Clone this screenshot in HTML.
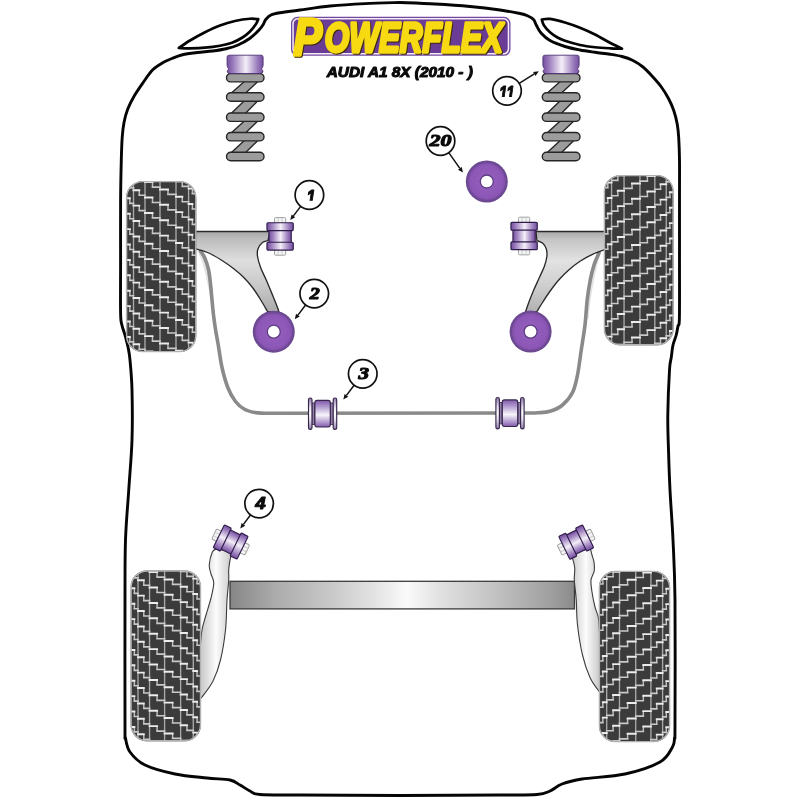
<!DOCTYPE html>
<html lang="en">
<head>
<meta charset="utf-8">
<title>Powerflex - AUDI A1 8X (2010 - )</title>
<style>
html,body{margin:0;padding:0;background:#fff;}
body{width:800px;height:800px;overflow:hidden;}
svg{display:block;filter:blur(0.55px);}
.ns{font-family:"Liberation Sans","DejaVu Sans",sans-serif;font-weight:bold;font-style:italic;font-size:15.8px;fill:#0a0a0a;stroke:#0a0a0a;stroke-width:0.9px;stroke-linejoin:round;}
.n1{font-family:"Liberation Sans","DejaVu Sans",sans-serif;font-weight:bold;font-style:italic;font-size:19.5px;fill:#0a0a0a;stroke:#0a0a0a;stroke-width:1.1px;stroke-linejoin:round;}
.nf{font-family:"Liberation Serif","DejaVu Serif",serif;font-weight:bold;font-style:italic;font-size:16.6px;fill:#0a0a0a;stroke:#0a0a0a;stroke-width:1.1px;stroke-linejoin:round;}
.logo{font-family:"Liberation Sans","DejaVu Sans",sans-serif;font-weight:bold;font-style:italic;stroke-linejoin:round;filter:drop-shadow(1.1px 1.1px 0.3px #3d2a0a);}
.lgP{font-size:52px;}
.lgR{font-size:42px;}
.fg{fill:#f7da12;stroke:#f7da12;stroke-width:3.4px;}
.sub{font-family:"Liberation Sans","DejaVu Sans",sans-serif;font-weight:bold;font-style:italic;font-size:14.6px;fill:#0a0a0a;stroke:#0a0a0a;stroke-width:1.05px;stroke-linejoin:round;}
</style>
</head>
<body>
<svg width="800" height="800" viewBox="0 0 800 800" role="img" aria-label="Powerflex AUDI A1 8X (2010 - ) bush diagram">
<defs>
<linearGradient id="gPurH" x1="0" y1="0" x2="1" y2="0">
  <stop offset="0" stop-color="#76509f"/><stop offset="0.14" stop-color="#9473b8"/>
  <stop offset="0.52" stop-color="#f4eff8"/><stop offset="0.86" stop-color="#9676ba"/>
  <stop offset="1" stop-color="#76509f"/>
</linearGradient>
<linearGradient id="gPurV" x1="0" y1="0" x2="0" y2="1">
  <stop offset="0" stop-color="#8259aa"/><stop offset="0.2" stop-color="#a98fc9"/><stop offset="0.55" stop-color="#f8f5fb"/>
  <stop offset="0.85" stop-color="#a98fc9"/><stop offset="1" stop-color="#8259aa"/>
</linearGradient>
<linearGradient id="gPurV2" x1="0" y1="0" x2="0" y2="1">
  <stop offset="0" stop-color="#8f7aa8"/><stop offset="0.3" stop-color="#e6dff0"/><stop offset="0.5" stop-color="#ffffff"/>
  <stop offset="0.7" stop-color="#e6dff0"/><stop offset="1" stop-color="#8f7aa8"/>
</linearGradient>
<linearGradient id="gBeam" x1="0" y1="0" x2="1" y2="0">
  <stop offset="0" stop-color="#868686"/><stop offset="0.13" stop-color="#ababab"/>
  <stop offset="0.28" stop-color="#c6c6c6"/><stop offset="0.42" stop-color="#e3e3e3"/>
  <stop offset="0.515" stop-color="#fafafa"/><stop offset="0.6" stop-color="#e3e3e3"/>
  <stop offset="0.78" stop-color="#c0c0c0"/><stop offset="0.93" stop-color="#a0a0a0"/>
  <stop offset="1" stop-color="#8a8a8a"/>
</linearGradient>
<linearGradient id="gArmL" gradientUnits="userSpaceOnUse" x1="0" y1="231" x2="0" y2="313">
  <stop offset="0" stop-color="#a6a6a6"/><stop offset="0.1" stop-color="#bdbdbd"/><stop offset="0.36" stop-color="#dedede"/>
  <stop offset="0.7" stop-color="#c6c6c6"/><stop offset="1" stop-color="#a9a9a9"/>
</linearGradient>
<linearGradient id="gArmR" gradientUnits="userSpaceOnUse" x1="0" y1="231" x2="0" y2="313">
  <stop offset="0" stop-color="#a6a6a6"/><stop offset="0.1" stop-color="#c4c4c4"/><stop offset="0.36" stop-color="#e2e2e2"/>
  <stop offset="0.7" stop-color="#cccccc"/><stop offset="1" stop-color="#b0b0b0"/>
</linearGradient>
<linearGradient id="gTrailL" gradientUnits="userSpaceOnUse" x1="203" y1="0" x2="229" y2="0">
  <stop offset="0" stop-color="#cfcfcf"/><stop offset="0.5" stop-color="#fcfcfc"/>
  <stop offset="1" stop-color="#d2d2d2"/>
</linearGradient>
<linearGradient id="gTrailR" gradientUnits="userSpaceOnUse" x1="574" y1="0" x2="598" y2="0">
  <stop offset="0" stop-color="#d2d2d2"/><stop offset="0.5" stop-color="#fcfcfc"/>
  <stop offset="1" stop-color="#cfcfcf"/>
</linearGradient>
<radialGradient id="gDisc" cx="0.5" cy="0.5" r="0.5">
  <stop offset="0" stop-color="#9560bd"/><stop offset="0.85" stop-color="#8d57b7"/>
  <stop offset="1" stop-color="#8250ab"/>
</radialGradient>
<marker id="ah" viewBox="0 0 10 10" refX="9" refY="5" markerWidth="7" markerHeight="7" orient="auto" markerUnits="userSpaceOnUse">
  <path d="M0,1 L10,5 L0,9 Z" fill="#111"/>
</marker>
<clipPath id="tc1"><rect x="126.2" y="181.2" width="70" height="170.8" rx="16.2" ry="16.2"/></clipPath><clipPath id="tc2"><rect x="604" y="175.2" width="69.5" height="170" rx="16.2" ry="16.2"/></clipPath><clipPath id="tc3"><rect x="130.7" y="570.6" width="70.2" height="170.6" rx="16.2" ry="16.2"/></clipPath><clipPath id="tc4"><rect x="599" y="571" width="71" height="171" rx="16.2" ry="16.2"/></clipPath><clipPath id="lc1"><rect x="295.4" y="181" width="28" height="19.7"/></clipPath><clipPath id="lc2"><rect x="493" y="76.85" width="28" height="20.1"/></clipPath></defs>
<rect width="800" height="800" fill="#fff"/>
<path d="M400,2.5C394.17,2.68 376.67,3.02 365,3.6C353.33,4.18 340.83,4.93 330,6C319.17,7.07 308.33,8.88 300,10C291.67,11.12 284.83,11.92 280,12.75C275.17,13.58 273.38,13.88 271,15C268.62,16.12 267,18 265.75,19.5C264.5,21 264.62,22.25 263.5,24C262.38,25.75 261.25,27.62 259,30C256.75,32.38 253.5,35.75 250,38.25C246.5,40.75 242,43.25 238,45C234,46.75 230.25,47.75 226,48.75C221.75,49.75 217.25,50.38 212.5,51C207.75,51.62 202.5,51.88 197.5,52.5C192.5,53.12 186.75,53.75 182.5,54.75C178.25,55.75 175.25,57.21 172,58.5C168.75,59.79 166.25,60.58 163,62.5C159.75,64.42 155.75,66.75 152.5,70C149.25,73.25 146.5,77.75 143.5,82C140.5,86.25 137.12,91 134.5,95.5C131.88,100 129.5,104.5 127.75,109C126,113.5 124.92,117.75 124,122.5C123.08,127.25 122.65,131.25 122.2,137.5C121.75,143.75 121.57,149.58 121.3,160C121.03,170.42 120.72,183.33 120.6,200C120.48,216.67 120.6,241.17 120.6,260C120.6,278.83 120.38,302.17 120.6,313C120.82,323.83 121.17,321.33 121.9,325C122.63,328.67 123.97,331.25 125,335C126.03,338.75 127.27,343.33 128.1,347.5C128.93,351.67 129.35,352.92 130,360C130.65,367.08 131.67,376.67 132,390C132.33,403.33 132.54,423.33 132,440C131.46,456.67 129.83,473.33 128.75,490C127.67,506.67 126.12,521.67 125.5,540C124.88,558.33 125.08,569.17 125,600C124.92,630.83 124.92,702 125,725C125.08,748 124.67,733.5 125.5,738C126.33,742.5 126.75,747.5 130,752C133.25,756.5 137.5,761.33 145,765C152.5,768.67 164.67,771.83 175,774C185.33,776.17 197.83,777 207,778C216.17,779 224.5,778.83 230,780C235.5,781.17 236.67,783.17 240,785C243.33,786.83 246.67,789.42 250,791C253.33,792.58 251.67,793.83 260,794.5C268.33,795.17 276.67,794.83 300,795C323.33,795.17 383.33,795.42 400,795.5" fill="none" stroke="#050505" stroke-width="2.9" stroke-linejoin="round"/>
<path d="M400,2.5C405.83,2.75 423.33,3.33 435,4C446.67,4.67 459.17,5.5 470,6.5C480.83,7.5 491.67,8.83 500,10C508.33,11.17 515.42,12.54 520,13.5C524.58,14.46 525.25,14.75 527.5,15.75C529.75,16.75 532,17.88 533.5,19.5C535,21.12 535.25,23.25 536.5,25.5C537.75,27.75 538.75,30.5 541,33C543.25,35.5 546,38.25 550,40.5C554,42.75 560,44.92 565,46.5C570,48.08 575,49.03 580,50C585,50.97 590,51.59 595,52.3C600,53.01 605.5,53.55 610,54.25C614.5,54.95 618.25,55.5 622,56.5C625.75,57.5 629,58.5 632.5,60.25C636,62 639.75,64.38 643,67C646.25,69.62 649,72.75 652,76C655,79.25 658.25,82.75 661,86.5C663.75,90.25 666.38,94.5 668.5,98.5C670.62,102.5 672.3,106.25 673.75,110.5C675.2,114.75 676.38,119.5 677.2,124C678.03,128.5 678.32,131.5 678.7,137.5C679.08,143.5 679.37,149.58 679.5,160C679.63,170.42 679.5,183.33 679.5,200C679.5,216.67 679.52,240.33 679.5,260C679.48,279.67 679.65,307 679.4,318C679.15,329 678.52,323.17 678,326C677.48,328.83 677.08,331.83 676.25,335C675.42,338.17 673.83,341.25 673,345C672.17,348.75 671.83,353.33 671.25,357.5C670.67,361.67 670.08,360.42 669.5,370C668.92,379.58 667.97,401.67 667.8,415C667.63,428.33 668.13,437.5 668.5,450C668.87,462.5 669.25,475 670,490C670.75,505 672.17,521.67 673,540C673.83,558.33 674.67,569.17 675,600C675.33,630.83 675.08,702 675,725C674.92,748 674.92,734.33 674.5,738C674.08,741.67 674.92,743 672.5,747C670.08,751 667.92,757.5 660,762C652.08,766.5 638,771.17 625,774C612,776.83 592.5,777.33 582,779C571.5,780.67 567.33,782 562,784C556.67,786 554.17,789.25 550,791C545.83,792.75 545.33,793.83 537,794.5C528.67,795.17 522.83,794.83 500,795C477.17,795.17 416.67,795.42 400,795.5" fill="none" stroke="#050505" stroke-width="2.9" stroke-linejoin="round"/>
<path d="M178.75,48C180.62,46.75 185.62,43.12 190,40.5C194.38,37.88 200,34.75 205,32.25C210,29.75 215,27.38 220,25.5C225,23.62 230,22.12 235,21C240,19.88 246.12,19.05 250,18.75C253.88,18.45 256.88,19.12 258.25,19.2L258.25,19.2C257.88,20 257.38,21.95 256,24C254.62,26.05 252.25,29.25 250,31.5C247.75,33.75 245.5,35.62 242.5,37.5C239.5,39.38 235.75,41.38 232,42.75C228.25,44.12 224.5,44.92 220,45.75C215.5,46.58 210,47.28 205,47.7C200,48.12 194.38,48.25 190,48.3C185.62,48.35 180.62,48.05 178.75,48Z" fill="none" stroke="#050505" stroke-width="2.7" stroke-linejoin="round"/>
<path d="M622,48.6C620,47.62 614.5,45.1 610,42.75C605.5,40.4 600,37 595,34.5C590,32 585,29.75 580,27.75C575,25.75 570,23.98 565,22.5C560,21.02 553.88,19.4 550,18.9C546.12,18.4 543.12,19.4 541.75,19.5L541.75,19.5C542.12,20.5 542.62,23.38 544,25.5C545.38,27.62 547.75,30.25 550,32.25C552.25,34.25 555,36.08 557.5,37.5C560,38.92 561.25,39.55 565,40.8C568.75,42.05 575,43.92 580,45C585,46.08 590,46.7 595,47.25C600,47.8 605.5,48.07 610,48.3C614.5,48.52 620,48.55 622,48.6Z" fill="none" stroke="#050505" stroke-width="2.7" stroke-linejoin="round"/>
<path d="M197.2,251C197.77,252.17 199.4,254.83 200.6,258C201.8,261.17 203.2,265.5 204.4,270C205.6,274.5 206.8,280 207.8,285C208.8,290 209.57,294.5 210.4,300C211.23,305.5 212.4,315 212.8,318L213.8,318C213.5,315 212.53,305.5 212,300C211.47,294.5 211.17,290 210.6,285C210.03,280 209.57,274.5 208.6,270C207.63,265.5 206.13,261.17 204.8,258C203.47,254.83 201.3,252.17 200.6,251Z" fill="#e2e2e2"/>
<path d="M600.8,252C600.23,254.17 598.53,260.33 597.4,265C596.27,269.67 595.13,274.17 594,280C592.87,285.83 591.5,293.67 590.6,300C589.7,306.33 588.93,315 588.6,318L587,320C587.22,316.67 587.76,306.67 588.3,300C588.84,293.33 589.3,285.83 590.25,280C591.2,274.17 592.54,269.5 594,265C595.46,260.5 598.17,255 599,253Z" fill="#e2e2e2"/>
<path d="M200.6,251C201.3,252.17 203.47,254.83 204.8,258C206.13,261.17 207.63,265.5 208.6,270C209.57,274.5 210.03,280 210.6,285C211.17,290 211.52,295 212,300C212.48,305 212.9,310 213.5,315C214.1,320 214.81,325 215.6,330C216.39,335 217.18,338.75 218.25,345C219.32,351.25 220.38,360.33 222,367.5C223.62,374.67 225.75,382.33 228,388C230.25,393.67 232.75,397.95 235.5,401.5C238.25,405.05 241.25,407.45 244.5,409.3C247.75,411.15 251.75,411.95 255,412.6C258.25,413.25 260.67,413.08 264,413.2C267.33,413.32 273.17,413.28 275,413.3L528,413C529.67,412.97 534.33,413.08 538,412.8C541.67,412.52 545.92,412.6 550,411.3C554.08,410 558.75,408.13 562.5,405C566.25,401.87 570,397.5 572.5,392.5C575,387.5 576.04,382.08 577.5,375C578.96,367.92 580,358.33 581.25,350C582.5,341.67 584.01,333.33 585,325C585.99,316.67 586.33,307.5 587.2,300C588.08,292.5 589.12,285.83 590.25,280C591.38,274.17 592.54,269.5 594,265C595.46,260.5 598.17,255 599,253" fill="none" stroke="#8a8a8a" stroke-width="3.6" stroke-linecap="round" stroke-linejoin="round"/>
<rect x="230" y="581.3" width="344.5" height="27.6" fill="url(#gBeam)" stroke="#3a3a3a" stroke-width="1.3"/>
<path d="M216,549C215.38,549.54 213.38,549.58 212.25,552.25C211.12,554.92 209.46,561.38 209.25,565C209.04,568.62 210.25,571 211,574C211.75,577 213.75,579 213.75,583C213.75,587 212.29,592.67 211,598C209.71,603.33 207.5,609.67 206,615C204.5,620.33 203,624.17 202,630C201,635.83 200.33,646.67 200,650L200,698C200.33,697.83 199.83,699.83 202,697C204.17,694.17 209.92,687.17 213,681C216.08,674.83 218.42,668.5 220.5,660C222.58,651.5 224.42,640 225.5,630C226.58,620 226.46,608.33 227,600C227.54,591.67 228.46,585.08 228.75,580C229.04,574.92 228.38,573.5 228.75,569.5C229.12,565.5 230.12,558.92 231,556C231.88,553.08 233.5,552.67 234,552Z" fill="url(#gTrailL)" stroke="#3c3c3c" stroke-width="1.1" stroke-linejoin="round"/>
<path d="M590.5,549C590.75,550 591.42,552.83 592,555C592.58,557.17 593.62,559.33 594,562C594.38,564.67 594.75,568 594.25,571C593.75,574 591.38,576.5 591,580C590.62,583.5 591.33,587.5 592,592C592.67,596.5 593.88,602.33 595,607C596.12,611.67 597.92,612.83 598.75,620C599.58,627.17 599.79,645 600,650L600,693C599.79,692.67 600.42,693.58 598.75,691C597.08,688.42 592.71,683.5 590,677.5C587.29,671.5 584.58,663.75 582.5,655C580.42,646.25 578.54,634.17 577.5,625C576.46,615.83 576.78,607.5 576.25,600C575.72,592.5 574.55,585.33 574.3,580C574.05,574.67 575.05,571.62 574.75,568C574.45,564.38 573.29,560.92 572.5,558.25C571.71,555.58 570.42,553.04 570,552Z" fill="url(#gTrailR)" stroke="#3c3c3c" stroke-width="1.1" stroke-linejoin="round"/>
<path d="M195,231.5L270,231.5L268,240.6C267.08,240.92 264.17,241.14 262.5,242.5C260.83,243.86 258.83,246.46 258,248.75C257.17,251.04 257.07,253.12 257.5,256.25C257.93,259.38 259.14,263.54 260.6,267.5C262.06,271.46 264.27,275.42 266.25,280C268.23,284.58 270.62,290.42 272.5,295C274.38,299.58 276.42,304.67 277.5,307.5C278.58,310.33 278.75,311.25 279,312L267.5,311.5C266.25,309.38 262.5,302.75 260,298.75C257.5,294.75 255.21,291.04 252.5,287.5C249.79,283.96 246.88,280.62 243.75,277.5C240.62,274.38 237.5,271.67 233.75,268.75C230,265.83 225.42,262.62 221.25,260C217.08,257.38 213.12,254.9 208.75,253C204.38,251.1 197.29,249.33 195,248.6Z" fill="url(#gArmL)" stroke="#2a2a2a" stroke-width="1.35" stroke-linejoin="round"/>
<path d="M605,231.5L536,231.5L536.9,240.6C537.83,241.02 540.94,241.74 542.5,243.1C544.06,244.46 545.52,246.56 546.25,248.75C546.98,250.94 547.21,253.33 546.9,256.25C546.59,259.17 545.65,262.71 544.4,266.25C543.15,269.79 541.17,273.54 539.4,277.5C537.62,281.46 535.52,285.83 533.75,290C531.98,294.17 530.12,298.83 528.75,302.5C527.38,306.17 526.04,310.42 525.5,312L537,311.5C537.92,310 540.33,305.88 542.5,302.5C544.67,299.12 547.29,295 550,291.25C552.71,287.5 555.62,283.54 558.75,280C561.88,276.46 565.21,273.12 568.75,270C572.29,266.88 576.04,263.85 580,261.25C583.96,258.65 588.33,256.34 592.5,254.4C596.67,252.46 602.92,250.4 605,249.6Z" fill="url(#gArmR)" stroke="#2a2a2a" stroke-width="1.35" stroke-linejoin="round"/>
<rect x="126.2" y="181.2" width="70" height="170.8" rx="16.2" ry="16.2" fill="#3b3b3b"/>
<g clip-path="url(#tc1)" fill="none"><path d="M133.5,181.2V352M145,181.2V352M160,181.2V352M176,181.2V352M188.6,181.2V352" stroke="#a9a9a9" stroke-width="1.35"/><path d="M129.85,152.1L129.85,157.1M129.85,167.5L129.85,172.5M129.85,182.9L129.85,187.9M129.85,198.3L129.85,203.3M129.85,213.7L129.85,218.7M129.85,229.1L129.85,234.1M129.85,244.5L129.85,249.5M129.85,259.9L129.85,264.9M129.85,275.3L129.85,280.3M129.85,290.7L129.85,295.7M129.85,306.1L129.85,311.1M129.85,321.5L129.85,326.5M129.85,336.9L129.85,341.9M129.85,352.3L129.85,357.3M139.25,159.4L139.25,164.4M139.25,174.8L139.25,179.8M139.25,190.2L139.25,195.2M139.25,205.6L139.25,210.6M139.25,221L139.25,226M139.25,236.4L139.25,241.4M139.25,251.8L139.25,256.8M139.25,267.2L139.25,272.2M139.25,282.6L139.25,287.6M139.25,298L139.25,303M139.25,313.4L139.25,318.4M139.25,328.8L139.25,333.8M139.25,344.2L139.25,349.2M139.25,359.6L139.25,364.6M152.5,151.3L152.5,156.3M152.5,166.7L152.5,171.7M152.5,182.1L152.5,187.1M152.5,197.5L152.5,202.5M152.5,212.9L152.5,217.9M152.5,228.3L152.5,233.3M152.5,243.7L152.5,248.7M152.5,259.1L152.5,264.1M152.5,274.5L152.5,279.5M152.5,289.9L152.5,294.9M152.5,305.3L152.5,310.3M152.5,320.7L152.5,325.7M152.5,336.1L152.5,341.1M152.5,351.5L152.5,356.5M152.5,366.9L152.5,371.9M168,158.6L168,163.6M168,174L168,179M168,189.4L168,194.4M168,204.8L168,209.8M168,220.2L168,225.2M168,235.6L168,240.6M168,251L168,256M168,266.4L168,271.4M168,281.8L168,286.8M168,297.2L168,302.2M168,312.6L168,317.6M168,328L168,333M168,343.4L168,348.4M168,358.8L168,363.8M182.3,150.5L182.3,155.5M182.3,165.9L182.3,170.9M182.3,181.3L182.3,186.3M182.3,196.7L182.3,201.7M182.3,212.1L182.3,217.1M182.3,227.5L182.3,232.5M182.3,242.9L182.3,247.9M182.3,258.3L182.3,263.3M182.3,273.7L182.3,278.7M182.3,289.1L182.3,294.1M182.3,304.5L182.3,309.5M182.3,319.9L182.3,324.9M182.3,335.3L182.3,340.3M182.3,350.7L182.3,355.7M182.3,366.1L182.3,371.1M192.4,157.8L192.4,162.8M192.4,173.2L192.4,178.2M192.4,188.6L192.4,193.6M192.4,204L192.4,209M192.4,219.4L192.4,224.4M192.4,234.8L192.4,239.8M192.4,250.2L192.4,255.2M192.4,265.6L192.4,270.6M192.4,281L192.4,286M192.4,296.4L192.4,301.4M192.4,311.8L192.4,316.8M192.4,327.2L192.4,332.2M192.4,342.6L192.4,347.6M192.4,358L192.4,363" stroke="#bebebe" stroke-width="1.45"/><path d="M129.85,157.1L133.5,157.1M129.85,172.5L133.5,172.5M129.85,187.9L133.5,187.9M129.85,203.3L133.5,203.3M129.85,218.7L133.5,218.7M129.85,234.1L133.5,234.1M129.85,249.5L133.5,249.5M129.85,264.9L133.5,264.9M129.85,280.3L133.5,280.3M129.85,295.7L133.5,295.7M129.85,311.1L133.5,311.1M129.85,326.5L133.5,326.5M129.85,341.9L133.5,341.9M129.85,357.3L133.5,357.3M139.25,164.4L145,164.4M139.25,179.8L145,179.8M139.25,195.2L145,195.2M139.25,210.6L145,210.6M139.25,226L145,226M139.25,241.4L145,241.4M139.25,256.8L145,256.8M139.25,272.2L145,272.2M139.25,287.6L145,287.6M139.25,303L145,303M139.25,318.4L145,318.4M139.25,333.8L145,333.8M139.25,349.2L145,349.2M139.25,364.6L145,364.6M152.5,156.3L160,156.3M152.5,171.7L160,171.7M152.5,187.1L160,187.1M152.5,202.5L160,202.5M152.5,217.9L160,217.9M152.5,233.3L160,233.3M152.5,248.7L160,248.7M152.5,264.1L160,264.1M152.5,279.5L160,279.5M152.5,294.9L160,294.9M152.5,310.3L160,310.3M152.5,325.7L160,325.7M152.5,341.1L160,341.1M152.5,356.5L160,356.5M152.5,371.9L160,371.9M168,163.6L176,163.6M168,179L176,179M168,194.4L176,194.4M168,209.8L176,209.8M168,225.2L176,225.2M168,240.6L176,240.6M168,256L176,256M168,271.4L176,271.4M168,286.8L176,286.8M168,302.2L176,302.2M168,317.6L176,317.6M168,333L176,333M168,348.4L176,348.4M168,363.8L176,363.8M182.3,155.5L188.6,155.5M182.3,170.9L188.6,170.9M182.3,186.3L188.6,186.3M182.3,201.7L188.6,201.7M182.3,217.1L188.6,217.1M182.3,232.5L188.6,232.5M182.3,247.9L188.6,247.9M182.3,263.3L188.6,263.3M182.3,278.7L188.6,278.7M182.3,294.1L188.6,294.1M182.3,309.5L188.6,309.5M182.3,324.9L188.6,324.9M182.3,340.3L188.6,340.3M182.3,355.7L188.6,355.7M182.3,371.1L188.6,371.1M192.4,162.8L196.2,162.8M192.4,178.2L196.2,178.2M192.4,193.6L196.2,193.6M192.4,209L196.2,209M192.4,224.4L196.2,224.4M192.4,239.8L196.2,239.8M192.4,255.2L196.2,255.2M192.4,270.6L196.2,270.6M192.4,286L196.2,286M192.4,301.4L196.2,301.4M192.4,316.8L196.2,316.8M192.4,332.2L196.2,332.2M192.4,347.6L196.2,347.6M192.4,363L196.2,363" stroke="#c9c9c9" stroke-width="1.65" stroke-linecap="square"/><path d="M126.2,152.1L129.85,152.1M126.2,167.5L129.85,167.5M126.2,182.9L129.85,182.9M126.2,198.3L129.85,198.3M126.2,213.7L129.85,213.7M126.2,229.1L129.85,229.1M126.2,244.5L129.85,244.5M126.2,259.9L129.85,259.9M126.2,275.3L129.85,275.3M126.2,290.7L129.85,290.7M126.2,306.1L129.85,306.1M126.2,321.5L129.85,321.5M126.2,336.9L129.85,336.9M126.2,352.3L129.85,352.3M133.5,159.4L139.25,159.4M133.5,174.8L139.25,174.8M133.5,190.2L139.25,190.2M133.5,205.6L139.25,205.6M133.5,221L139.25,221M133.5,236.4L139.25,236.4M133.5,251.8L139.25,251.8M133.5,267.2L139.25,267.2M133.5,282.6L139.25,282.6M133.5,298L139.25,298M133.5,313.4L139.25,313.4M133.5,328.8L139.25,328.8M133.5,344.2L139.25,344.2M133.5,359.6L139.25,359.6M145,151.3L152.5,151.3M145,166.7L152.5,166.7M145,182.1L152.5,182.1M145,197.5L152.5,197.5M145,212.9L152.5,212.9M145,228.3L152.5,228.3M145,243.7L152.5,243.7M145,259.1L152.5,259.1M145,274.5L152.5,274.5M145,289.9L152.5,289.9M145,305.3L152.5,305.3M145,320.7L152.5,320.7M145,336.1L152.5,336.1M145,351.5L152.5,351.5M145,366.9L152.5,366.9M160,158.6L168,158.6M160,174L168,174M160,189.4L168,189.4M160,204.8L168,204.8M160,220.2L168,220.2M160,235.6L168,235.6M160,251L168,251M160,266.4L168,266.4M160,281.8L168,281.8M160,297.2L168,297.2M160,312.6L168,312.6M160,328L168,328M160,343.4L168,343.4M160,358.8L168,358.8M176,150.5L182.3,150.5M176,165.9L182.3,165.9M176,181.3L182.3,181.3M176,196.7L182.3,196.7M176,212.1L182.3,212.1M176,227.5L182.3,227.5M176,242.9L182.3,242.9M176,258.3L182.3,258.3M176,273.7L182.3,273.7M176,289.1L182.3,289.1M176,304.5L182.3,304.5M176,319.9L182.3,319.9M176,335.3L182.3,335.3M176,350.7L182.3,350.7M176,366.1L182.3,366.1M188.6,157.8L192.4,157.8M188.6,173.2L192.4,173.2M188.6,188.6L192.4,188.6M188.6,204L192.4,204M188.6,219.4L192.4,219.4M188.6,234.8L192.4,234.8M188.6,250.2L192.4,250.2M188.6,265.6L192.4,265.6M188.6,281L192.4,281M188.6,296.4L192.4,296.4M188.6,311.8L192.4,311.8M188.6,327.2L192.4,327.2M188.6,342.6L192.4,342.6M188.6,358L192.4,358" stroke="#ececec" stroke-width="1.95" stroke-linecap="square"/></g>
<rect x="126.6" y="181.6" width="69.2" height="170" rx="16.2" ry="16.2" fill="none" stroke="#b2b2b2" stroke-width="1.4"/>
<rect x="604" y="175.2" width="69.5" height="170" rx="16.2" ry="16.2" fill="#3b3b3b"/>
<g clip-path="url(#tc2)" fill="none"><path d="M666.25,175.2V345.2M654.83,175.2V345.2M639.94,175.2V345.2M624.06,175.2V345.2M611.55,175.2V345.2" stroke="#a9a9a9" stroke-width="1.35"/><path d="M669.88,146.1L669.88,151.1M669.88,161.5L669.88,166.5M669.88,176.9L669.88,181.9M669.88,192.3L669.88,197.3M669.88,207.7L669.88,212.7M669.88,223.1L669.88,228.1M669.88,238.5L669.88,243.5M669.88,253.9L669.88,258.9M669.88,269.3L669.88,274.3M669.88,284.7L669.88,289.7M669.88,300.1L669.88,305.1M669.88,315.5L669.88,320.5M669.88,330.9L669.88,335.9M669.88,346.3L669.88,351.3M660.54,153.4L660.54,158.4M660.54,168.8L660.54,173.8M660.54,184.2L660.54,189.2M660.54,199.6L660.54,204.6M660.54,215L660.54,220M660.54,230.4L660.54,235.4M660.54,245.8L660.54,250.8M660.54,261.2L660.54,266.2M660.54,276.6L660.54,281.6M660.54,292L660.54,297M660.54,307.4L660.54,312.4M660.54,322.8L660.54,327.8M660.54,338.2L660.54,343.2M660.54,353.6L660.54,358.6M647.39,145.3L647.39,150.3M647.39,160.7L647.39,165.7M647.39,176.1L647.39,181.1M647.39,191.5L647.39,196.5M647.39,206.9L647.39,211.9M647.39,222.3L647.39,227.3M647.39,237.7L647.39,242.7M647.39,253.1L647.39,258.1M647.39,268.5L647.39,273.5M647.39,283.9L647.39,288.9M647.39,299.3L647.39,304.3M647.39,314.7L647.39,319.7M647.39,330.1L647.39,335.1M647.39,345.5L647.39,350.5M632,152.6L632,157.6M632,168L632,173M632,183.4L632,188.4M632,198.8L632,203.8M632,214.2L632,219.2M632,229.6L632,234.6M632,245L632,250M632,260.4L632,265.4M632,275.8L632,280.8M632,291.2L632,296.2M632,306.6L632,311.6M632,322L632,327M632,337.4L632,342.4M632,352.8L632,357.8M617.8,144.5L617.8,149.5M617.8,159.9L617.8,164.9M617.8,175.3L617.8,180.3M617.8,190.7L617.8,195.7M617.8,206.1L617.8,211.1M617.8,221.5L617.8,226.5M617.8,236.9L617.8,241.9M617.8,252.3L617.8,257.3M617.8,267.7L617.8,272.7M617.8,283.1L617.8,288.1M617.8,298.5L617.8,303.5M617.8,313.9L617.8,318.9M617.8,329.3L617.8,334.3M617.8,344.7L617.8,349.7M617.8,360.1L617.8,365.1M607.77,151.8L607.77,156.8M607.77,167.2L607.77,172.2M607.77,182.6L607.77,187.6M607.77,198L607.77,203M607.77,213.4L607.77,218.4M607.77,228.8L607.77,233.8M607.77,244.2L607.77,249.2M607.77,259.6L607.77,264.6M607.77,275L607.77,280M607.77,290.4L607.77,295.4M607.77,305.8L607.77,310.8M607.77,321.2L607.77,326.2M607.77,336.6L607.77,341.6M607.77,352L607.77,357" stroke="#bebebe" stroke-width="1.45"/><path d="M669.88,151.1L666.25,151.1M669.88,166.5L666.25,166.5M669.88,181.9L666.25,181.9M669.88,197.3L666.25,197.3M669.88,212.7L666.25,212.7M669.88,228.1L666.25,228.1M669.88,243.5L666.25,243.5M669.88,258.9L666.25,258.9M669.88,274.3L666.25,274.3M669.88,289.7L666.25,289.7M669.88,305.1L666.25,305.1M669.88,320.5L666.25,320.5M669.88,335.9L666.25,335.9M669.88,351.3L666.25,351.3M660.54,158.4L654.83,158.4M660.54,173.8L654.83,173.8M660.54,189.2L654.83,189.2M660.54,204.6L654.83,204.6M660.54,220L654.83,220M660.54,235.4L654.83,235.4M660.54,250.8L654.83,250.8M660.54,266.2L654.83,266.2M660.54,281.6L654.83,281.6M660.54,297L654.83,297M660.54,312.4L654.83,312.4M660.54,327.8L654.83,327.8M660.54,343.2L654.83,343.2M660.54,358.6L654.83,358.6M647.39,150.3L639.94,150.3M647.39,165.7L639.94,165.7M647.39,181.1L639.94,181.1M647.39,196.5L639.94,196.5M647.39,211.9L639.94,211.9M647.39,227.3L639.94,227.3M647.39,242.7L639.94,242.7M647.39,258.1L639.94,258.1M647.39,273.5L639.94,273.5M647.39,288.9L639.94,288.9M647.39,304.3L639.94,304.3M647.39,319.7L639.94,319.7M647.39,335.1L639.94,335.1M647.39,350.5L639.94,350.5M632,157.6L624.06,157.6M632,173L624.06,173M632,188.4L624.06,188.4M632,203.8L624.06,203.8M632,219.2L624.06,219.2M632,234.6L624.06,234.6M632,250L624.06,250M632,265.4L624.06,265.4M632,280.8L624.06,280.8M632,296.2L624.06,296.2M632,311.6L624.06,311.6M632,327L624.06,327M632,342.4L624.06,342.4M632,357.8L624.06,357.8M617.8,149.5L611.55,149.5M617.8,164.9L611.55,164.9M617.8,180.3L611.55,180.3M617.8,195.7L611.55,195.7M617.8,211.1L611.55,211.1M617.8,226.5L611.55,226.5M617.8,241.9L611.55,241.9M617.8,257.3L611.55,257.3M617.8,272.7L611.55,272.7M617.8,288.1L611.55,288.1M617.8,303.5L611.55,303.5M617.8,318.9L611.55,318.9M617.8,334.3L611.55,334.3M617.8,349.7L611.55,349.7M617.8,365.1L611.55,365.1M607.77,156.8L604,156.8M607.77,172.2L604,172.2M607.77,187.6L604,187.6M607.77,203L604,203M607.77,218.4L604,218.4M607.77,233.8L604,233.8M607.77,249.2L604,249.2M607.77,264.6L604,264.6M607.77,280L604,280M607.77,295.4L604,295.4M607.77,310.8L604,310.8M607.77,326.2L604,326.2M607.77,341.6L604,341.6M607.77,357L604,357" stroke="#c9c9c9" stroke-width="1.65" stroke-linecap="square"/><path d="M673.5,146.1L669.88,146.1M673.5,161.5L669.88,161.5M673.5,176.9L669.88,176.9M673.5,192.3L669.88,192.3M673.5,207.7L669.88,207.7M673.5,223.1L669.88,223.1M673.5,238.5L669.88,238.5M673.5,253.9L669.88,253.9M673.5,269.3L669.88,269.3M673.5,284.7L669.88,284.7M673.5,300.1L669.88,300.1M673.5,315.5L669.88,315.5M673.5,330.9L669.88,330.9M673.5,346.3L669.88,346.3M666.25,153.4L660.54,153.4M666.25,168.8L660.54,168.8M666.25,184.2L660.54,184.2M666.25,199.6L660.54,199.6M666.25,215L660.54,215M666.25,230.4L660.54,230.4M666.25,245.8L660.54,245.8M666.25,261.2L660.54,261.2M666.25,276.6L660.54,276.6M666.25,292L660.54,292M666.25,307.4L660.54,307.4M666.25,322.8L660.54,322.8M666.25,338.2L660.54,338.2M666.25,353.6L660.54,353.6M654.83,145.3L647.39,145.3M654.83,160.7L647.39,160.7M654.83,176.1L647.39,176.1M654.83,191.5L647.39,191.5M654.83,206.9L647.39,206.9M654.83,222.3L647.39,222.3M654.83,237.7L647.39,237.7M654.83,253.1L647.39,253.1M654.83,268.5L647.39,268.5M654.83,283.9L647.39,283.9M654.83,299.3L647.39,299.3M654.83,314.7L647.39,314.7M654.83,330.1L647.39,330.1M654.83,345.5L647.39,345.5M639.94,152.6L632,152.6M639.94,168L632,168M639.94,183.4L632,183.4M639.94,198.8L632,198.8M639.94,214.2L632,214.2M639.94,229.6L632,229.6M639.94,245L632,245M639.94,260.4L632,260.4M639.94,275.8L632,275.8M639.94,291.2L632,291.2M639.94,306.6L632,306.6M639.94,322L632,322M639.94,337.4L632,337.4M639.94,352.8L632,352.8M624.06,144.5L617.8,144.5M624.06,159.9L617.8,159.9M624.06,175.3L617.8,175.3M624.06,190.7L617.8,190.7M624.06,206.1L617.8,206.1M624.06,221.5L617.8,221.5M624.06,236.9L617.8,236.9M624.06,252.3L617.8,252.3M624.06,267.7L617.8,267.7M624.06,283.1L617.8,283.1M624.06,298.5L617.8,298.5M624.06,313.9L617.8,313.9M624.06,329.3L617.8,329.3M624.06,344.7L617.8,344.7M624.06,360.1L617.8,360.1M611.55,151.8L607.77,151.8M611.55,167.2L607.77,167.2M611.55,182.6L607.77,182.6M611.55,198L607.77,198M611.55,213.4L607.77,213.4M611.55,228.8L607.77,228.8M611.55,244.2L607.77,244.2M611.55,259.6L607.77,259.6M611.55,275L607.77,275M611.55,290.4L607.77,290.4M611.55,305.8L607.77,305.8M611.55,321.2L607.77,321.2M611.55,336.6L607.77,336.6M611.55,352L607.77,352" stroke="#ececec" stroke-width="1.95" stroke-linecap="square"/></g>
<rect x="604.4" y="175.6" width="68.7" height="169.2" rx="16.2" ry="16.2" fill="none" stroke="#b2b2b2" stroke-width="1.4"/>
<rect x="130.7" y="570.6" width="70.2" height="170.6" rx="16.2" ry="16.2" fill="#3b3b3b"/>
<g clip-path="url(#tc3)" fill="none"><path d="M138.02,570.6V741.2M149.55,570.6V741.2M164.6,570.6V741.2M180.64,570.6V741.2M193.28,570.6V741.2" stroke="#a9a9a9" stroke-width="1.35"/><path d="M134.36,542.1L134.36,547.1M134.36,557.5L134.36,562.5M134.36,572.9L134.36,577.9M134.36,588.3L134.36,593.3M134.36,603.7L134.36,608.7M134.36,619.1L134.36,624.1M134.36,634.5L134.36,639.5M134.36,649.9L134.36,654.9M134.36,665.3L134.36,670.3M134.36,680.7L134.36,685.7M134.36,696.1L134.36,701.1M134.36,711.5L134.36,716.5M134.36,726.9L134.36,731.9M134.36,742.3L134.36,747.3M143.79,549.4L143.79,554.4M143.79,564.8L143.79,569.8M143.79,580.2L143.79,585.2M143.79,595.6L143.79,600.6M143.79,611L143.79,616M143.79,626.4L143.79,631.4M143.79,641.8L143.79,646.8M143.79,657.2L143.79,662.2M143.79,672.6L143.79,677.6M143.79,688L143.79,693M143.79,703.4L143.79,708.4M143.79,718.8L143.79,723.8M143.79,734.2L143.79,739.2M143.79,749.6L143.79,754.6M157.08,541.3L157.08,546.3M157.08,556.7L157.08,561.7M157.08,572.1L157.08,577.1M157.08,587.5L157.08,592.5M157.08,602.9L157.08,607.9M157.08,618.3L157.08,623.3M157.08,633.7L157.08,638.7M157.08,649.1L157.08,654.1M157.08,664.5L157.08,669.5M157.08,679.9L157.08,684.9M157.08,695.3L157.08,700.3M157.08,710.7L157.08,715.7M157.08,726.1L157.08,731.1M157.08,741.5L157.08,746.5M172.62,548.6L172.62,553.6M172.62,564L172.62,569M172.62,579.4L172.62,584.4M172.62,594.8L172.62,599.8M172.62,610.2L172.62,615.2M172.62,625.6L172.62,630.6M172.62,641L172.62,646M172.62,656.4L172.62,661.4M172.62,671.8L172.62,676.8M172.62,687.2L172.62,692.2M172.62,702.6L172.62,707.6M172.62,718L172.62,723M172.62,733.4L172.62,738.4M172.62,748.8L172.62,753.8M186.96,540.5L186.96,545.5M186.96,555.9L186.96,560.9M186.96,571.3L186.96,576.3M186.96,586.7L186.96,591.7M186.96,602.1L186.96,607.1M186.96,617.5L186.96,622.5M186.96,632.9L186.96,637.9M186.96,648.3L186.96,653.3M186.96,663.7L186.96,668.7M186.96,679.1L186.96,684.1M186.96,694.5L186.96,699.5M186.96,709.9L186.96,714.9M186.96,725.3L186.96,730.3M186.96,740.7L186.96,745.7M186.96,756.1L186.96,761.1M197.09,547.8L197.09,552.8M197.09,563.2L197.09,568.2M197.09,578.6L197.09,583.6M197.09,594L197.09,599M197.09,609.4L197.09,614.4M197.09,624.8L197.09,629.8M197.09,640.2L197.09,645.2M197.09,655.6L197.09,660.6M197.09,671L197.09,676M197.09,686.4L197.09,691.4M197.09,701.8L197.09,706.8M197.09,717.2L197.09,722.2M197.09,732.6L197.09,737.6M197.09,748L197.09,753" stroke="#bebebe" stroke-width="1.45"/><path d="M134.36,547.1L138.02,547.1M134.36,562.5L138.02,562.5M134.36,577.9L138.02,577.9M134.36,593.3L138.02,593.3M134.36,608.7L138.02,608.7M134.36,624.1L138.02,624.1M134.36,639.5L138.02,639.5M134.36,654.9L138.02,654.9M134.36,670.3L138.02,670.3M134.36,685.7L138.02,685.7M134.36,701.1L138.02,701.1M134.36,716.5L138.02,716.5M134.36,731.9L138.02,731.9M134.36,747.3L138.02,747.3M143.79,554.4L149.55,554.4M143.79,569.8L149.55,569.8M143.79,585.2L149.55,585.2M143.79,600.6L149.55,600.6M143.79,616L149.55,616M143.79,631.4L149.55,631.4M143.79,646.8L149.55,646.8M143.79,662.2L149.55,662.2M143.79,677.6L149.55,677.6M143.79,693L149.55,693M143.79,708.4L149.55,708.4M143.79,723.8L149.55,723.8M143.79,739.2L149.55,739.2M143.79,754.6L149.55,754.6M157.08,546.3L164.6,546.3M157.08,561.7L164.6,561.7M157.08,577.1L164.6,577.1M157.08,592.5L164.6,592.5M157.08,607.9L164.6,607.9M157.08,623.3L164.6,623.3M157.08,638.7L164.6,638.7M157.08,654.1L164.6,654.1M157.08,669.5L164.6,669.5M157.08,684.9L164.6,684.9M157.08,700.3L164.6,700.3M157.08,715.7L164.6,715.7M157.08,731.1L164.6,731.1M157.08,746.5L164.6,746.5M172.62,553.6L180.64,553.6M172.62,569L180.64,569M172.62,584.4L180.64,584.4M172.62,599.8L180.64,599.8M172.62,615.2L180.64,615.2M172.62,630.6L180.64,630.6M172.62,646L180.64,646M172.62,661.4L180.64,661.4M172.62,676.8L180.64,676.8M172.62,692.2L180.64,692.2M172.62,707.6L180.64,707.6M172.62,723L180.64,723M172.62,738.4L180.64,738.4M172.62,753.8L180.64,753.8M186.96,545.5L193.28,545.5M186.96,560.9L193.28,560.9M186.96,576.3L193.28,576.3M186.96,591.7L193.28,591.7M186.96,607.1L193.28,607.1M186.96,622.5L193.28,622.5M186.96,637.9L193.28,637.9M186.96,653.3L193.28,653.3M186.96,668.7L193.28,668.7M186.96,684.1L193.28,684.1M186.96,699.5L193.28,699.5M186.96,714.9L193.28,714.9M186.96,730.3L193.28,730.3M186.96,745.7L193.28,745.7M186.96,761.1L193.28,761.1M197.09,552.8L200.9,552.8M197.09,568.2L200.9,568.2M197.09,583.6L200.9,583.6M197.09,599L200.9,599M197.09,614.4L200.9,614.4M197.09,629.8L200.9,629.8M197.09,645.2L200.9,645.2M197.09,660.6L200.9,660.6M197.09,676L200.9,676M197.09,691.4L200.9,691.4M197.09,706.8L200.9,706.8M197.09,722.2L200.9,722.2M197.09,737.6L200.9,737.6M197.09,753L200.9,753" stroke="#c9c9c9" stroke-width="1.65" stroke-linecap="square"/><path d="M130.7,542.1L134.36,542.1M130.7,557.5L134.36,557.5M130.7,572.9L134.36,572.9M130.7,588.3L134.36,588.3M130.7,603.7L134.36,603.7M130.7,619.1L134.36,619.1M130.7,634.5L134.36,634.5M130.7,649.9L134.36,649.9M130.7,665.3L134.36,665.3M130.7,680.7L134.36,680.7M130.7,696.1L134.36,696.1M130.7,711.5L134.36,711.5M130.7,726.9L134.36,726.9M130.7,742.3L134.36,742.3M138.02,549.4L143.79,549.4M138.02,564.8L143.79,564.8M138.02,580.2L143.79,580.2M138.02,595.6L143.79,595.6M138.02,611L143.79,611M138.02,626.4L143.79,626.4M138.02,641.8L143.79,641.8M138.02,657.2L143.79,657.2M138.02,672.6L143.79,672.6M138.02,688L143.79,688M138.02,703.4L143.79,703.4M138.02,718.8L143.79,718.8M138.02,734.2L143.79,734.2M138.02,749.6L143.79,749.6M149.55,541.3L157.08,541.3M149.55,556.7L157.08,556.7M149.55,572.1L157.08,572.1M149.55,587.5L157.08,587.5M149.55,602.9L157.08,602.9M149.55,618.3L157.08,618.3M149.55,633.7L157.08,633.7M149.55,649.1L157.08,649.1M149.55,664.5L157.08,664.5M149.55,679.9L157.08,679.9M149.55,695.3L157.08,695.3M149.55,710.7L157.08,710.7M149.55,726.1L157.08,726.1M149.55,741.5L157.08,741.5M164.6,548.6L172.62,548.6M164.6,564L172.62,564M164.6,579.4L172.62,579.4M164.6,594.8L172.62,594.8M164.6,610.2L172.62,610.2M164.6,625.6L172.62,625.6M164.6,641L172.62,641M164.6,656.4L172.62,656.4M164.6,671.8L172.62,671.8M164.6,687.2L172.62,687.2M164.6,702.6L172.62,702.6M164.6,718L172.62,718M164.6,733.4L172.62,733.4M164.6,748.8L172.62,748.8M180.64,540.5L186.96,540.5M180.64,555.9L186.96,555.9M180.64,571.3L186.96,571.3M180.64,586.7L186.96,586.7M180.64,602.1L186.96,602.1M180.64,617.5L186.96,617.5M180.64,632.9L186.96,632.9M180.64,648.3L186.96,648.3M180.64,663.7L186.96,663.7M180.64,679.1L186.96,679.1M180.64,694.5L186.96,694.5M180.64,709.9L186.96,709.9M180.64,725.3L186.96,725.3M180.64,740.7L186.96,740.7M180.64,756.1L186.96,756.1M193.28,547.8L197.09,547.8M193.28,563.2L197.09,563.2M193.28,578.6L197.09,578.6M193.28,594L197.09,594M193.28,609.4L197.09,609.4M193.28,624.8L197.09,624.8M193.28,640.2L197.09,640.2M193.28,655.6L197.09,655.6M193.28,671L197.09,671M193.28,686.4L197.09,686.4M193.28,701.8L197.09,701.8M193.28,717.2L197.09,717.2M193.28,732.6L197.09,732.6M193.28,748L197.09,748" stroke="#ececec" stroke-width="1.95" stroke-linecap="square"/></g>
<rect x="131.1" y="571" width="69.4" height="169.8" rx="16.2" ry="16.2" fill="none" stroke="#b2b2b2" stroke-width="1.4"/>
<rect x="599" y="571" width="71" height="171" rx="16.2" ry="16.2" fill="#3b3b3b"/>
<g clip-path="url(#tc4)" fill="none"><path d="M662.6,571V742M650.93,571V742M635.72,571V742M619.49,571V742M606.71,571V742" stroke="#a9a9a9" stroke-width="1.35"/><path d="M666.3,542.5L666.3,547.5M666.3,557.9L666.3,562.9M666.3,573.3L666.3,578.3M666.3,588.7L666.3,593.7M666.3,604.1L666.3,609.1M666.3,619.5L666.3,624.5M666.3,634.9L666.3,639.9M666.3,650.3L666.3,655.3M666.3,665.7L666.3,670.7M666.3,681.1L666.3,686.1M666.3,696.5L666.3,701.5M666.3,711.9L666.3,716.9M666.3,727.3L666.3,732.3M666.3,742.7L666.3,747.7M656.76,549.8L656.76,554.8M656.76,565.2L656.76,570.2M656.76,580.6L656.76,585.6M656.76,596L656.76,601M656.76,611.4L656.76,616.4M656.76,626.8L656.76,631.8M656.76,642.2L656.76,647.2M656.76,657.6L656.76,662.6M656.76,673L656.76,678M656.76,688.4L656.76,693.4M656.76,703.8L656.76,708.8M656.76,719.2L656.76,724.2M656.76,734.6L656.76,739.6M656.76,750L656.76,755M643.32,541.7L643.32,546.7M643.32,557.1L643.32,562.1M643.32,572.5L643.32,577.5M643.32,587.9L643.32,592.9M643.32,603.3L643.32,608.3M643.32,618.7L643.32,623.7M643.32,634.1L643.32,639.1M643.32,649.5L643.32,654.5M643.32,664.9L643.32,669.9M643.32,680.3L643.32,685.3M643.32,695.7L643.32,700.7M643.32,711.1L643.32,716.1M643.32,726.5L643.32,731.5M643.32,741.9L643.32,746.9M643.32,757.3L643.32,762.3M627.6,549L627.6,554M627.6,564.4L627.6,569.4M627.6,579.8L627.6,584.8M627.6,595.2L627.6,600.2M627.6,610.6L627.6,615.6M627.6,626L627.6,631M627.6,641.4L627.6,646.4M627.6,656.8L627.6,661.8M627.6,672.2L627.6,677.2M627.6,687.6L627.6,692.6M627.6,703L627.6,708M627.6,718.4L627.6,723.4M627.6,733.8L627.6,738.8M627.6,749.2L627.6,754.2M613.1,540.9L613.1,545.9M613.1,556.3L613.1,561.3M613.1,571.7L613.1,576.7M613.1,587.1L613.1,592.1M613.1,602.5L613.1,607.5M613.1,617.9L613.1,622.9M613.1,633.3L613.1,638.3M613.1,648.7L613.1,653.7M613.1,664.1L613.1,669.1M613.1,679.5L613.1,684.5M613.1,694.9L613.1,699.9M613.1,710.3L613.1,715.3M613.1,725.7L613.1,730.7M613.1,741.1L613.1,746.1M613.1,756.5L613.1,761.5M602.85,548.2L602.85,553.2M602.85,563.6L602.85,568.6M602.85,579L602.85,584M602.85,594.4L602.85,599.4M602.85,609.8L602.85,614.8M602.85,625.2L602.85,630.2M602.85,640.6L602.85,645.6M602.85,656L602.85,661M602.85,671.4L602.85,676.4M602.85,686.8L602.85,691.8M602.85,702.2L602.85,707.2M602.85,717.6L602.85,722.6M602.85,733L602.85,738M602.85,748.4L602.85,753.4" stroke="#bebebe" stroke-width="1.45"/><path d="M666.3,547.5L662.6,547.5M666.3,562.9L662.6,562.9M666.3,578.3L662.6,578.3M666.3,593.7L662.6,593.7M666.3,609.1L662.6,609.1M666.3,624.5L662.6,624.5M666.3,639.9L662.6,639.9M666.3,655.3L662.6,655.3M666.3,670.7L662.6,670.7M666.3,686.1L662.6,686.1M666.3,701.5L662.6,701.5M666.3,716.9L662.6,716.9M666.3,732.3L662.6,732.3M666.3,747.7L662.6,747.7M656.76,554.8L650.93,554.8M656.76,570.2L650.93,570.2M656.76,585.6L650.93,585.6M656.76,601L650.93,601M656.76,616.4L650.93,616.4M656.76,631.8L650.93,631.8M656.76,647.2L650.93,647.2M656.76,662.6L650.93,662.6M656.76,678L650.93,678M656.76,693.4L650.93,693.4M656.76,708.8L650.93,708.8M656.76,724.2L650.93,724.2M656.76,739.6L650.93,739.6M656.76,755L650.93,755M643.32,546.7L635.72,546.7M643.32,562.1L635.72,562.1M643.32,577.5L635.72,577.5M643.32,592.9L635.72,592.9M643.32,608.3L635.72,608.3M643.32,623.7L635.72,623.7M643.32,639.1L635.72,639.1M643.32,654.5L635.72,654.5M643.32,669.9L635.72,669.9M643.32,685.3L635.72,685.3M643.32,700.7L635.72,700.7M643.32,716.1L635.72,716.1M643.32,731.5L635.72,731.5M643.32,746.9L635.72,746.9M643.32,762.3L635.72,762.3M627.6,554L619.49,554M627.6,569.4L619.49,569.4M627.6,584.8L619.49,584.8M627.6,600.2L619.49,600.2M627.6,615.6L619.49,615.6M627.6,631L619.49,631M627.6,646.4L619.49,646.4M627.6,661.8L619.49,661.8M627.6,677.2L619.49,677.2M627.6,692.6L619.49,692.6M627.6,708L619.49,708M627.6,723.4L619.49,723.4M627.6,738.8L619.49,738.8M627.6,754.2L619.49,754.2M613.1,545.9L606.71,545.9M613.1,561.3L606.71,561.3M613.1,576.7L606.71,576.7M613.1,592.1L606.71,592.1M613.1,607.5L606.71,607.5M613.1,622.9L606.71,622.9M613.1,638.3L606.71,638.3M613.1,653.7L606.71,653.7M613.1,669.1L606.71,669.1M613.1,684.5L606.71,684.5M613.1,699.9L606.71,699.9M613.1,715.3L606.71,715.3M613.1,730.7L606.71,730.7M613.1,746.1L606.71,746.1M613.1,761.5L606.71,761.5M602.85,553.2L599,553.2M602.85,568.6L599,568.6M602.85,584L599,584M602.85,599.4L599,599.4M602.85,614.8L599,614.8M602.85,630.2L599,630.2M602.85,645.6L599,645.6M602.85,661L599,661M602.85,676.4L599,676.4M602.85,691.8L599,691.8M602.85,707.2L599,707.2M602.85,722.6L599,722.6M602.85,738L599,738M602.85,753.4L599,753.4" stroke="#c9c9c9" stroke-width="1.65" stroke-linecap="square"/><path d="M670,542.5L666.3,542.5M670,557.9L666.3,557.9M670,573.3L666.3,573.3M670,588.7L666.3,588.7M670,604.1L666.3,604.1M670,619.5L666.3,619.5M670,634.9L666.3,634.9M670,650.3L666.3,650.3M670,665.7L666.3,665.7M670,681.1L666.3,681.1M670,696.5L666.3,696.5M670,711.9L666.3,711.9M670,727.3L666.3,727.3M670,742.7L666.3,742.7M662.6,549.8L656.76,549.8M662.6,565.2L656.76,565.2M662.6,580.6L656.76,580.6M662.6,596L656.76,596M662.6,611.4L656.76,611.4M662.6,626.8L656.76,626.8M662.6,642.2L656.76,642.2M662.6,657.6L656.76,657.6M662.6,673L656.76,673M662.6,688.4L656.76,688.4M662.6,703.8L656.76,703.8M662.6,719.2L656.76,719.2M662.6,734.6L656.76,734.6M662.6,750L656.76,750M650.93,541.7L643.32,541.7M650.93,557.1L643.32,557.1M650.93,572.5L643.32,572.5M650.93,587.9L643.32,587.9M650.93,603.3L643.32,603.3M650.93,618.7L643.32,618.7M650.93,634.1L643.32,634.1M650.93,649.5L643.32,649.5M650.93,664.9L643.32,664.9M650.93,680.3L643.32,680.3M650.93,695.7L643.32,695.7M650.93,711.1L643.32,711.1M650.93,726.5L643.32,726.5M650.93,741.9L643.32,741.9M650.93,757.3L643.32,757.3M635.72,549L627.6,549M635.72,564.4L627.6,564.4M635.72,579.8L627.6,579.8M635.72,595.2L627.6,595.2M635.72,610.6L627.6,610.6M635.72,626L627.6,626M635.72,641.4L627.6,641.4M635.72,656.8L627.6,656.8M635.72,672.2L627.6,672.2M635.72,687.6L627.6,687.6M635.72,703L627.6,703M635.72,718.4L627.6,718.4M635.72,733.8L627.6,733.8M635.72,749.2L627.6,749.2M619.49,540.9L613.1,540.9M619.49,556.3L613.1,556.3M619.49,571.7L613.1,571.7M619.49,587.1L613.1,587.1M619.49,602.5L613.1,602.5M619.49,617.9L613.1,617.9M619.49,633.3L613.1,633.3M619.49,648.7L613.1,648.7M619.49,664.1L613.1,664.1M619.49,679.5L613.1,679.5M619.49,694.9L613.1,694.9M619.49,710.3L613.1,710.3M619.49,725.7L613.1,725.7M619.49,741.1L613.1,741.1M619.49,756.5L613.1,756.5M606.71,548.2L602.85,548.2M606.71,563.6L602.85,563.6M606.71,579L602.85,579M606.71,594.4L602.85,594.4M606.71,609.8L602.85,609.8M606.71,625.2L602.85,625.2M606.71,640.6L602.85,640.6M606.71,656L602.85,656M606.71,671.4L602.85,671.4M606.71,686.8L602.85,686.8M606.71,702.2L602.85,702.2M606.71,717.6L602.85,717.6M606.71,733L602.85,733M606.71,748.4L602.85,748.4" stroke="#ececec" stroke-width="1.95" stroke-linecap="square"/></g>
<rect x="599.4" y="571.4" width="70.2" height="170.2" rx="16.2" ry="16.2" fill="none" stroke="#b2b2b2" stroke-width="1.4"/>
<path d="M244.88,80.9L258.38,80.9L244.88,93.8L230.62,93.8Z" fill="#9c9c9c" stroke="#262626" stroke-width="1.4" stroke-linejoin="round"/>
<path d="M244.88,100.2L258.38,100.2L244.88,114L230.62,114Z" fill="#9c9c9c" stroke="#262626" stroke-width="1.4" stroke-linejoin="round"/>
<path d="M244.88,120.4L258.38,120.4L244.88,133.5L230.62,133.5Z" fill="#9c9c9c" stroke="#262626" stroke-width="1.4" stroke-linejoin="round"/>
<path d="M244.88,139.9L258.38,139.9L244.88,153.3L230.62,153.3Z" fill="#9c9c9c" stroke="#262626" stroke-width="1.4" stroke-linejoin="round"/>
<rect x="226.5" y="73.5" width="37.5" height="8.4" rx="4.2" fill="#9c9c9c" stroke="#262626" stroke-width="1.4"/>
<rect x="226.5" y="92.8" width="37.5" height="8.4" rx="4.2" fill="#9c9c9c" stroke="#262626" stroke-width="1.4"/>
<rect x="226.5" y="113" width="37.5" height="8.4" rx="4.2" fill="#9c9c9c" stroke="#262626" stroke-width="1.4"/>
<rect x="226.5" y="132.5" width="37.5" height="8.4" rx="4.2" fill="#9c9c9c" stroke="#262626" stroke-width="1.4"/>
<rect x="226.5" y="152.3" width="37.5" height="8.4" rx="4.2" fill="#9c9c9c" stroke="#262626" stroke-width="1.4"/>
<path d="M229.1,55.2H261.1Q263.1,55.2 263.1,57.2V65.2Q262.9,67.8 261.4,69Q263.3,70.2 262.9,71.8Q262.5,73.5 260.1,73.5H230.1Q227.7,73.5 227.3,71.8Q226.9,70.2 228.8,69Q227.3,67.8 227.1,65.2V57.2Q227.1,55.2 229.1,55.2Z" fill="url(#gPurH)" stroke="#4d3273" stroke-width="0.9"/>
<path d="M560.77,80.9L574.35,80.9L560.77,93.8L546.45,93.8Z" fill="#9c9c9c" stroke="#262626" stroke-width="1.4" stroke-linejoin="round"/>
<path d="M560.77,100.2L574.35,100.2L560.77,114L546.45,114Z" fill="#9c9c9c" stroke="#262626" stroke-width="1.4" stroke-linejoin="round"/>
<path d="M560.77,120.4L574.35,120.4L560.77,133.5L546.45,133.5Z" fill="#9c9c9c" stroke="#262626" stroke-width="1.4" stroke-linejoin="round"/>
<path d="M560.77,139.9L574.35,139.9L560.77,153.3L546.45,153.3Z" fill="#9c9c9c" stroke="#262626" stroke-width="1.4" stroke-linejoin="round"/>
<rect x="542.3" y="73.5" width="37.7" height="8.4" rx="4.2" fill="#9c9c9c" stroke="#262626" stroke-width="1.4"/>
<rect x="542.3" y="92.8" width="37.7" height="8.4" rx="4.2" fill="#9c9c9c" stroke="#262626" stroke-width="1.4"/>
<rect x="542.3" y="113" width="37.7" height="8.4" rx="4.2" fill="#9c9c9c" stroke="#262626" stroke-width="1.4"/>
<rect x="542.3" y="132.5" width="37.7" height="8.4" rx="4.2" fill="#9c9c9c" stroke="#262626" stroke-width="1.4"/>
<rect x="542.3" y="152.3" width="37.7" height="8.4" rx="4.2" fill="#9c9c9c" stroke="#262626" stroke-width="1.4"/>
<path d="M544.9,55.2H577.1Q579.1,55.2 579.1,57.2V65.2Q578.9,67.8 577.4,69Q579.3,70.2 578.9,71.8Q578.5,73.5 576.1,73.5H545.9Q543.5,73.5 543.1,71.8Q542.7,70.2 544.6,69Q543.1,67.8 542.9,65.2V57.2Q542.9,55.2 544.9,55.2Z" fill="url(#gPurH)" stroke="#4d3273" stroke-width="0.9"/>
<g transform="translate(280.1,236.4) rotate(0)"><rect x="-5.6" y="-18.85" width="11.2" height="37.7" rx="1.2" fill="#f4f4f4" stroke="#9a9a9a" stroke-width="0.9"/><path d="M-2,-18.65V18.65M2,-18.65V18.65" stroke="#c4c4c4" stroke-width="0.8" fill="none"/><rect x="-11.15" y="-6.85" width="22.3" height="13.7" fill="url(#gPurH)" stroke="#2f1b4a" stroke-width="1.15"/><rect x="-13.15" y="-13.65" width="26.3" height="7.8" rx="1" fill="url(#gPurH)" stroke="#2f1b4a" stroke-width="1.15"/><rect x="-13.15" y="5.85" width="26.3" height="7.8" rx="1" fill="url(#gPurH)" stroke="#2f1b4a" stroke-width="1.15"/></g>
<g transform="translate(524.1,236) rotate(0)"><rect x="-5.6" y="-18.85" width="11.2" height="37.7" rx="1.2" fill="#f4f4f4" stroke="#9a9a9a" stroke-width="0.9"/><path d="M-2,-18.65V18.65M2,-18.65V18.65" stroke="#c4c4c4" stroke-width="0.8" fill="none"/><rect x="-11.15" y="-6.85" width="22.3" height="13.7" fill="url(#gPurH)" stroke="#2f1b4a" stroke-width="1.15"/><rect x="-13.15" y="-13.65" width="26.3" height="7.8" rx="1" fill="url(#gPurH)" stroke="#2f1b4a" stroke-width="1.15"/><rect x="-13.15" y="5.85" width="26.3" height="7.8" rx="1" fill="url(#gPurH)" stroke="#2f1b4a" stroke-width="1.15"/></g>
<g transform="translate(230.7,542) rotate(-64)"><rect x="-5.6" y="-18.45" width="11.2" height="36.9" rx="1.2" fill="#f4f4f4" stroke="#9a9a9a" stroke-width="0.9"/><path d="M-2,-18.25V18.25M2,-18.25V18.25" stroke="#c4c4c4" stroke-width="0.8" fill="none"/><rect x="-10.75" y="-6.45" width="21.5" height="12.9" fill="url(#gPurH)" stroke="#2f1b4a" stroke-width="1.15"/><rect x="-12.75" y="-13.25" width="25.5" height="7.8" rx="1" fill="url(#gPurH)" stroke="#2f1b4a" stroke-width="1.15"/><rect x="-12.75" y="5.45" width="25.5" height="7.8" rx="1" fill="url(#gPurH)" stroke="#2f1b4a" stroke-width="1.15"/></g>
<g transform="translate(576.2,542.1) rotate(64)"><rect x="-5.6" y="-18.45" width="11.2" height="36.9" rx="1.2" fill="#f4f4f4" stroke="#9a9a9a" stroke-width="0.9"/><path d="M-2,-18.25V18.25M2,-18.25V18.25" stroke="#c4c4c4" stroke-width="0.8" fill="none"/><rect x="-10.75" y="-6.45" width="21.5" height="12.9" fill="url(#gPurH)" stroke="#2f1b4a" stroke-width="1.15"/><rect x="-12.75" y="-13.25" width="25.5" height="7.8" rx="1" fill="url(#gPurH)" stroke="#2f1b4a" stroke-width="1.15"/><rect x="-12.75" y="5.45" width="25.5" height="7.8" rx="1" fill="url(#gPurH)" stroke="#2f1b4a" stroke-width="1.15"/></g>
<rect x="311.9" y="403" width="2.8" height="21.4" fill="#9480ab" stroke="#35264a" stroke-width="0.8"/>
<rect x="330.5" y="403" width="2.8" height="21.4" fill="#9480ab" stroke="#35264a" stroke-width="0.8"/>
<rect x="314.9" y="400.4" width="15.4" height="26.6" rx="2.2" fill="url(#gPurV)" stroke="#35264a" stroke-width="1.15"/>
<rect x="308.5" y="398" width="3.5" height="31.4" rx="1.7" fill="url(#gPurV2)" stroke="#35264a" stroke-width="1.15"/>
<rect x="333.2" y="398" width="3.5" height="31.4" rx="1.7" fill="url(#gPurV2)" stroke="#35264a" stroke-width="1.15"/>
<rect x="499.3" y="402.5" width="2.8" height="21.4" fill="#9480ab" stroke="#35264a" stroke-width="0.8"/>
<rect x="517.9" y="402.5" width="2.8" height="21.4" fill="#9480ab" stroke="#35264a" stroke-width="0.8"/>
<rect x="502.3" y="399.9" width="15.4" height="26.6" rx="2.2" fill="url(#gPurV)" stroke="#35264a" stroke-width="1.15"/>
<rect x="495.9" y="397.5" width="3.5" height="31.4" rx="1.7" fill="url(#gPurV2)" stroke="#35264a" stroke-width="1.15"/>
<rect x="520.6" y="397.5" width="3.5" height="31.4" rx="1.7" fill="url(#gPurV2)" stroke="#35264a" stroke-width="1.15"/>
<circle cx="273.75" cy="331.7" r="21" fill="#6d4993"/>
<circle cx="273.75" cy="331.7" r="18.5" fill="url(#gDisc)"/>
<circle cx="273.75" cy="331.7" r="6.5" fill="#fff" stroke="#5c3c83" stroke-width="1.3"/>
<circle cx="530.6" cy="331.6" r="21" fill="#6d4993"/>
<circle cx="530.6" cy="331.6" r="18.5" fill="url(#gDisc)"/>
<circle cx="530.6" cy="331.6" r="6.5" fill="#fff" stroke="#5c3c83" stroke-width="1.3"/>
<circle cx="486.8" cy="181.5" r="21" fill="#6d4993"/>
<circle cx="486.8" cy="181.5" r="18.5" fill="url(#gDisc)"/>
<circle cx="486.8" cy="181.5" r="6.5" fill="#fff" stroke="#5c3c83" stroke-width="1.3"/>
<line x1="300.7" y1="206.35" x2="293.41" y2="215.87" stroke="#111" stroke-width="1.5"/>
<path d="M290.25,220L291.59,214.47L295.24,217.27Z" fill="#111"/>
<circle cx="309.4" cy="195" r="14.3" fill="#fff" stroke="#111" stroke-width="1.7"/>
<g clip-path="url(#lc1)"><text x="311.1" y="203.8" text-anchor="middle" class="n1" textLength="9" lengthAdjust="spacingAndGlyphs">1</text></g>
<line x1="305.6" y1="304.98" x2="297.9" y2="315.11" stroke="#111" stroke-width="1.5"/>
<path d="M294.75,319.25L296.07,313.72L299.73,316.5Z" fill="#111"/>
<circle cx="314.25" cy="293.6" r="14.3" fill="#fff" stroke="#111" stroke-width="1.7"/>
<g><text x="314.85" y="299" text-anchor="middle" class="nf" textLength="10" lengthAdjust="spacingAndGlyphs">2</text></g>
<line x1="354.11" y1="385.24" x2="346.44" y2="395.36" stroke="#111" stroke-width="1.5"/>
<path d="M343.3,399.5L344.61,393.97L348.27,396.75Z" fill="#111"/>
<circle cx="362.75" cy="373.85" r="14.3" fill="#fff" stroke="#111" stroke-width="1.7"/>
<g><text x="363.75" y="379.25" text-anchor="middle" class="nf" textLength="10.5" lengthAdjust="spacingAndGlyphs">3</text></g>
<line x1="250.48" y1="515.01" x2="243.43" y2="524.35" stroke="#111" stroke-width="1.5"/>
<path d="M240.3,528.5L241.6,522.96L245.27,525.74Z" fill="#111"/>
<circle cx="259.1" cy="503.6" r="14.3" fill="#fff" stroke="#111" stroke-width="1.7"/>
<g><text x="260.6" y="509.1" text-anchor="middle" class="ns" textLength="10.5" lengthAdjust="spacingAndGlyphs">4</text></g>
<line x1="519.17" y1="83.34" x2="534.33" y2="73.98" stroke="#111" stroke-width="1.5"/>
<path d="M538.75,71.25L535.53,75.94L533.12,72.02Z" fill="#111"/>
<circle cx="507" cy="90.85" r="14.3" fill="#fff" stroke="#111" stroke-width="1.7"/>
<g clip-path="url(#lc2)"><text x="506.8" y="100.05" text-anchor="middle" class="n1" textLength="15.5" lengthAdjust="spacingAndGlyphs">11</text></g>
<line x1="448.77" y1="152.67" x2="459.89" y2="168.36" stroke="#111" stroke-width="1.5"/>
<path d="M462.9,172.6L458.02,169.69L461.77,167.03Z" fill="#111"/>
<circle cx="440.5" cy="141" r="14.3" fill="#fff" stroke="#111" stroke-width="1.7"/>
<g><text x="440.5" y="146.2" text-anchor="middle" class="nf" textLength="22" lengthAdjust="spacingAndGlyphs">20</text></g>
<rect x="291" y="16.8" width="219.5" height="39" rx="6.5" fill="#74489f"/>
<rect x="292.3" y="18.1" width="216.9" height="36.4" rx="5.4" fill="#f3eef7"/>
<rect x="293.8" y="19.6" width="213.9" height="33.4" rx="4.2" fill="#6a3c95"/>
<text x="293.4" y="55.1" class="logo fg"><tspan class="lgP" textLength="28.5" lengthAdjust="spacingAndGlyphs">P</tspan><tspan class="lgR" x="324.8" y="52.1" textLength="178" lengthAdjust="spacingAndGlyphs">OWERFLEX</tspan></text>
<text x="399.8" y="77.2" text-anchor="middle" class="sub" textLength="146" lengthAdjust="spacingAndGlyphs">AUDI A1 8X (2010 - )</text>
</svg>
</body>
</html>
